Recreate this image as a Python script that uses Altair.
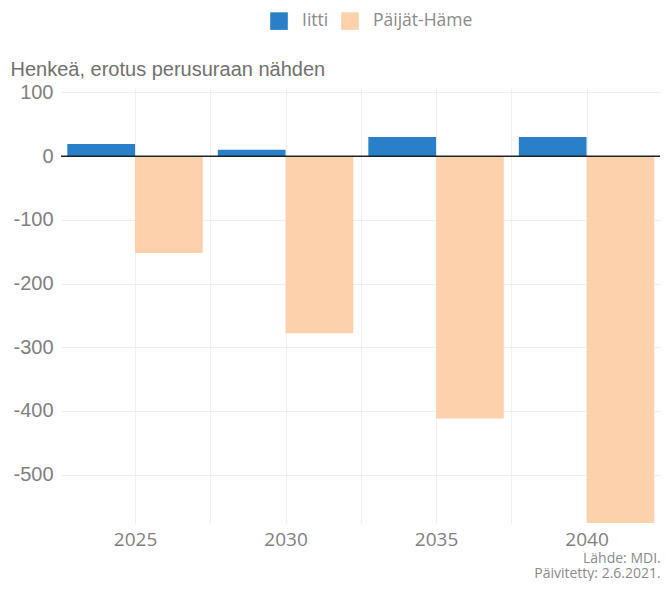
import altair as alt
import pandas as pd

years = [2025, 2030, 2035, 2040]
iitti = [19, 10, 30, 30]
paijat_hame = [-152, -278, -412, -590]
series_names = ["Iitti", "Päijät-Häme"]
colors = ["#2980C8", "#FDD1AC"]
x_ticks = [2025, 2027.5, 2030, 2032.5, 2035, 2037.5, 2040, 2042.5]
y_ticks = [100, 0, -100, -200, -300, -400, -500]

rows = []
for y, v in zip(years, iitti):
    rows.append({"year": y, "series": series_names[0], "value": v})
for y, v in zip(years, paijat_hame):
    rows.append({"year": y, "series": series_names[1], "value": v})
df = pd.DataFrame(rows)

half = 2.25
xscale = alt.Scale(domain=[2022.54, 2042.44], nice=False, zero=False)
yscale = alt.Scale(domain=[-576, 107], nice=False, zero=False)

bars = alt.Chart(df).transform_calculate(
    x0=f"datum.series == '{series_names[0]}' ? datum.year - {half} : datum.year",
    x1=f"datum.series == '{series_names[0]}' ? datum.year : datum.year + {half}",
    base="0",
).mark_bar(clip=True).encode(
    x=alt.X("x0:Q", scale=xscale,
            axis=alt.Axis(values=x_ticks, title=None, domain=False, ticks=False,
                          labelExpr="datum.value % 5 == 0 ? '' + datum.value : ''",
                          labelFont="Open Sans", labelFontSize=19, labelColor="#808080",
                          labelPadding=7, gridColor="#EFEFEF", gridWidth=1.2,
                          labelFlush=False)),
    x2="x1:Q",
    y=alt.Y("value:Q", scale=yscale,
            axis=alt.Axis(values=y_ticks, title="Henkeä, erotus perusuraan nähden",
                          labelExpr="'' + datum.value",
                          titleAngle=0, titleAlign="left", titleBaseline="alphabetic",
                          titleX=-51, titleY=-13, titleFont="Liberation Sans",
                          titleFontSize=20, titleFontWeight="normal", titleColor="#707070",
                          domain=False, ticks=False, labelFont="Liberation Sans",
                          labelFontSize=20, labelColor="#808080", labelPadding=8,
                          gridColor="#EFEFEF", gridWidth=1.2)),
    y2="base:Q",
    color=alt.Color("series:N", scale=alt.Scale(domain=series_names, range=colors),
                    legend=alt.Legend(title=None, orient="none", direction="horizontal",
                                      legendX=209, legendY=-76, symbolType="square",
                                      symbolSize=310, symbolStrokeWidth=0,
                                      labelFont="Open Sans", labelFontSize=17.5,
                                      labelColor="#8A8A8A", columnPadding=12,
                                      labelOffset=14, symbolOffset=0)),
)

zero = alt.Chart(pd.DataFrame({"v": [0]})).mark_rule(color="#222222", strokeWidth=1.5).encode(
    y=alt.Y("v:Q", scale=yscale)
)

chart = alt.layer(bars, zero).properties(
    width=599, height=435,
    autosize=alt.AutoSizeParams(type="none"),
    padding={"left": 53, "top": 80, "right": 0, "bottom": 58},
    title=alt.TitleParams(text=["Lähde: MDI.", "Päivitetty: 2.6.2021."], orient="bottom",
                          anchor="end", font="Open Sans", fontSize=14, fontWeight="normal",
                          color="#8A8A8A", lineHeight=15, offset=3, dx=0),
).configure_view(stroke=None)

chart.save("out.html", embed_options={"renderer": "svg", "actions": False})
